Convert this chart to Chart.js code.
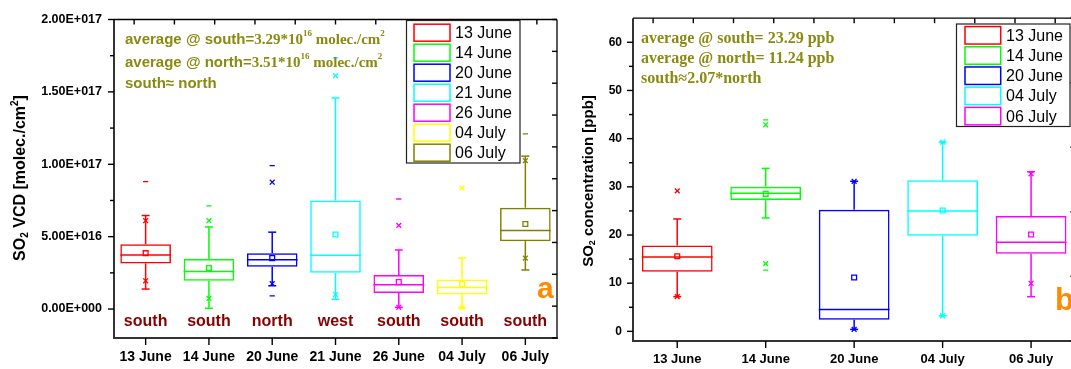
<!DOCTYPE html>
<html>
<head>
<meta charset="utf-8">
<script src="https://cdn.jsdelivr.net/npm/chart.js@4.4.1/dist/chart.umd.min.js"></script>
<style>
  html, body { margin: 0; padding: 0; background: #fff; overflow: hidden; width: 1071px; height: 369px; }
  canvas { position: absolute; top: 0; }
  #panelA { left: 0; }
  #panelB { left: 565px; }
</style>
</head>
<body>
<canvas id="panelA" width="565" height="369"></canvas>
<canvas id="panelB" width="515" height="369"></canvas>
<script>
// ---- panel a : SO2 VCD, values in units of 1E+016 molec./cm2 ----
const UNIT_A = 1e16
const daysA = ['13 June', '14 June', '20 June', '21 June', '26 June', '04 July', '06 July']
const placeA = ['south', 'south', 'north', 'west', 'south', 'south', 'south']
const colorsA = ['#ff0000', '#00ff00', '#0000ff', '#00ffff', '#ff00ff', '#ffff00', '#808000']
const whiskLoA = [1.38, 0.05, 1.61, 0.68, 0.12, 0.09, 2.70]
const q1A      = [3.15, 1.95, 2.93, 2.50, 1.11, 1.00, 4.69]
const medianA  = [3.74, 2.59, 3.40, 3.72, 1.68, 1.48, 5.42]
const q3A      = [4.47, 3.45, 3.86, 7.50, 2.36, 2.04, 7.00]
const whiskHiA = [6.46, 5.67, 5.31, 14.58, 4.08, 3.52, 10.56]
const meanA    = [3.86, 2.84, 3.52, 5.15, 1.86, 1.72, 5.87]
const crossLoA = [1.95, 0.73, 1.75, 1.00, 0.12, 0.09, 3.52]
const crossHiA = [6.10, 6.10, 8.76, 16.12, 5.78, 8.37, 10.25]
const dashLoA  = [null, null, 0.91, null, null, null, null]
const dashHiA  = [8.80, 7.12, 9.91, 17.35, 7.60, null, 12.10]

// ---- panel b : SO2 concentration [ppb] ----
const daysB = ['13 June', '14 June', '20 June', '04 July', '06 July']
const colorsB = ['#ff0000', '#00ff00', '#0000ff', '#00ffff', '#ff00ff']
const whiskLoB = [7.2, 23.54, 0.41, 3.23, 7.2]
const q1B      = [12.35, 27.24, 2.41, 19.84, 16.13]
const medianB  = [15.43, 28.68, 4.53, 24.98, 18.52]
const q3B      = [17.84, 30.04, 25.25, 31.36, 23.95]
const whiskHiB = [23.33, 33.83, 31.15, 39.3, 33.13]
const meanB    = [15.58, 28.54, 11.19, 25.1, 20.1]
const crossLoB = [7.2, 14.07, 0.41, 3.23, 9.96]
const crossHiB = [29.16, 42.88, 31.15, 39.3, 32.7]
const dashLoB  = [null, 12.7, 0.41, 3.23, null]
const dashHiB  = [null, 43.9, 31.15, 39.3, 33.13]

const SANS = '"Liberation Sans", Arial, sans-serif'
const SERIF = '"Liberation Serif", "Times New Roman", serif'
const OLIVE = '#8a8a10'

function sciLabel(v) {
    let [m, e] = Number(v).toExponential(2).split('e')
    let n = parseInt(e)
    return m + 'E' + (n < 0 ? '-' : '+') + String(Math.abs(n)).padStart(3, '0')
}

// draws pieces of text one after the other, returns the width
function drawRich(ctx, parts, x, y, measureOnly) {
    let cx = x
    parts.forEach(p => {
        ctx.font = p.font
        if (!measureOnly) ctx.fillText(p.text, cx, y + (p.dy || 0))
        cx += ctx.measureText(p.text).width
    })
    return cx - x
}

function line(ctx, x1, y1, x2, y2) {
    ctx.beginPath()
    ctx.moveTo(x1, y1)
    ctx.lineTo(x2, y2)
    ctx.stroke()
}

function pointSet(values, style, radius, colors) {
    return {
        type: 'line', data: values, showLine: false,
        pointStyle: style, pointRadius: radius, pointHoverRadius: radius,
        pointBorderColor: colors, pointBackgroundColor: 'rgba(0,0,0,0)', pointBorderWidth: 1.3
    }
}

function panelPlugin(p) {
    return {
        id: 'panelDeco',
        afterDatasetsDraw(chart) {
            let ctx = chart.ctx
            let y = chart.scales.y
            let bars = chart.getDatasetMeta(0).data
            ctx.save()
            ctx.lineWidth = 1.5
            p.days.forEach((d, i) => {
                let bar = bars[i]
                let cx = bar.x, half = bar.width / 2
                ctx.strokeStyle = p.colors[i]
                line(ctx, cx - half, y.getPixelForValue(p.median[i]), cx + half, y.getPixelForValue(p.median[i]))
                let yq3 = y.getPixelForValue(p.q3[i]), yq1 = y.getPixelForValue(p.q1[i])
                let yHi = y.getPixelForValue(p.whiskHi[i]), yLo = y.getPixelForValue(p.whiskLo[i])
                line(ctx, cx, yq3, cx, yHi)
                line(ctx, cx, yq1, cx, yLo)
                line(ctx, cx - 4, yHi, cx + 4, yHi)
                line(ctx, cx - 4, yLo, cx + 4, yLo)
            })
            ctx.restore()
        },
        afterDraw(chart) {
            let ctx = chart.ctx
            let a = chart.chartArea
            let x = chart.scales.x, y = chart.scales.y
            ctx.save()
            // frame
            ctx.strokeStyle = '#000'
            ctx.lineWidth = 1.3
            line(ctx, a.left, a.top, a.right, a.top)
            line(ctx, a.right, a.top, a.right, a.bottom)
            ctx.lineWidth = 1.6
            line(ctx, a.left, a.top, a.left, a.bottom + 1)
            ctx.strokeStyle = '#333'
            ctx.lineWidth = 2
            line(ctx, a.left - 1, a.bottom, a.right + 1, a.bottom)
            // ticks
            ctx.strokeStyle = '#000'
            ctx.lineWidth = 1.4
            y.ticks.forEach(t => {
                let py = y.getPixelForValue(t.value)
                line(ctx, a.left - 6, py, a.left, py)
            })
            for (let v = Math.ceil(p.yMin / p.minor) * p.minor; v < p.yMax; v += p.minor) {
                if (Math.abs(Math.round(v / p.step) * p.step - v) < p.minor / 10) continue
                let py = y.getPixelForValue(v)
                line(ctx, a.left - 4, py, a.left, py)
            }
            p.days.forEach((d, i) => {
                let px = x.getPixelForValue(i)
                line(ctx, px, a.bottom, px, a.bottom + 7)
            })
            chart.scales.xTop.ticks.forEach(t => {
                let px = chart.scales.xTop.getPixelForValue(t.value)
                line(ctx, px, a.top, px, a.top + 5)
            })
            chart.scales.yRight.ticks.forEach(t => {
                let py = chart.scales.yRight.getPixelForValue(t.value)
                line(ctx, a.right - 5, py, a.right, py)
            })

            // axis title
            ctx.fillStyle = '#000'
            ctx.textBaseline = 'middle'
            ctx.textAlign = 'left'
            let w = drawRich(ctx, p.title, 0, 0, true)
            ctx.save()
            ctx.translate(p.titleX, p.titleY)
            ctx.rotate(-Math.PI / 2)
            drawRich(ctx, p.title, -w / 2, 0)
            ctx.restore()

            // notes top left
            ctx.fillStyle = OLIVE
            p.notes.forEach((parts, i) => drawRich(ctx, parts, p.noteX, p.noteY[i]))

            // location names under boxes
            if (p.places) {
                ctx.fillStyle = '#880000'
                ctx.textAlign = 'center'
                ctx.font = `bold 16px ${SANS}`
                p.places.forEach((s, i) => ctx.fillText(s, x.getPixelForValue(i), y.getPixelForValue(p.placeY)))
                ctx.textAlign = 'left'
            }

            // legend
            let L = p.legend
            ctx.fillStyle = '#fff'
            ctx.fillRect(L.x, L.y, L.w, L.h)
            ctx.strokeStyle = '#222'
            ctx.lineWidth = 1.2
            ctx.strokeRect(L.x, L.y, L.w, L.h)
            ctx.font = `16px ${SANS}`
            p.days.forEach((d, i) => {
                let ry = L.row0 + L.dy * i
                ctx.strokeStyle = p.colors[i]
                ctx.lineWidth = 1.5
                ctx.strokeRect(L.swX, ry - L.swH / 2, L.swW, L.swH)
                ctx.fillStyle = '#000'
                ctx.fillText(d, L.textX, ry + 1)
            })

            // panel letter
            ctx.fillStyle = '#ff8a00'
            ctx.textBaseline = 'alphabetic'
            ctx.font = `bold ${p.letterSize}px ${SANS}`
            ctx.fillText(p.letter, p.letterX, p.letterY)
            ctx.restore()
        }
    }
}

function boxPanel(canvasId, p) {
    return new Chart(document.getElementById(canvasId), {
        type: 'bar',
        data: {
            labels: p.days,
            datasets: [
                {
                    type: 'bar', data: p.days.map((d, i) => [p.q1[i], p.q3[i]]),
                    borderColor: p.colors, backgroundColor: 'rgba(0,0,0,0)', borderWidth: 1.5,
                    borderSkipped: false, barPercentage: 0.8, categoryPercentage: 1
                },
                pointSet(p.mean, 'rect', 3.4, p.colors),
                pointSet(p.crossHi, 'crossRot', 3.4, p.colors),
                pointSet(p.crossLo, 'crossRot', 3.4, p.colors),
                pointSet(p.dashHi, 'line', 2.6, p.colors),
                pointSet(p.dashLo, 'line', 2.6, p.colors)
            ]
        },
        options: {
            responsive: false,
            animation: false,
            events: [],
            layout: { padding: { left: 0, top: p.padTop, right: p.padRight, bottom: 0 } },
            plugins: { legend: { display: false }, tooltip: { enabled: false } },
            scales: {
                x: {
                    grid: { display: false, drawTicks: false }, border: { display: false },
                    ticks: { color: '#000', maxRotation: 0, autoSkip: false, padding: p.xPad, font: { family: SANS, size: p.xFont, weight: 'bold' } },
                    afterFit: s => { s.height = p.xH }
                },
                y: {
                    min: p.yMin, max: p.yMax,
                    grid: { display: false, drawTicks: false }, border: { display: false },
                    ticks: { stepSize: p.step, includeBounds: false, callback: p.fmt, color: '#000', padding: p.yPad, font: { family: SANS, size: p.yFont, weight: 'bold' } },
                    afterFit: s => { s.width = p.yW }
                },
                xTop: {
                    type: 'linear', position: 'top', min: 0, max: 10,
                    grid: { display: false, drawTicks: false }, border: { display: false },
                    ticks: { stepSize: 1, display: false },
                    afterFit: s => { s.height = 0 }
                },
                yRight: {
                    type: 'linear', position: 'right', min: 0, max: p.rightDiv,
                    grid: { display: false, drawTicks: false }, border: { display: false },
                    ticks: { stepSize: 1, display: false },
                    afterFit: s => { s.width = 0 }
                }
            }
        },
        plugins: [panelPlugin(p)]
    })
}

const bold15 = `bold 15px ${SANS}`
const bold16 = `bold 16px ${SANS}`
const serif15 = `bold 15px ${SERIF}`
const serifSup = `bold 9px ${SERIF}`
const serif16 = `bold 16px ${SERIF}`

boxPanel('panelA', {
    days: daysA, colors: colorsA, places: placeA, placeY: -0.9,
    q1: q1A, q3: q3A, median: medianA, mean: meanA, whiskLo: whiskLoA, whiskHi: whiskHiA,
    crossLo: crossLoA, crossHi: crossHiA, dashLo: dashLoA, dashHi: dashHiA,
    yMin: -2, yMax: 20, step: 5, minor: 2.5, fmt: v => sciLabel(v * UNIT_A),
    padTop: 15, padRight: 8, yW: 114, xH: 31, xPad: 11, yPad: 12, rightDiv: 10, xFont: 14, yFont: 12.5,
    title: [
        { text: 'SO', font: bold16 }, { text: '2', font: `bold 10px ${SANS}`, dy: 4 },
        { text: ' VCD [molec./cm', font: bold16 }, { text: '2', font: `bold 10px ${SANS}`, dy: -6 },
        { text: ']', font: bold16 }
    ],
    titleX: 21, titleY: 178,
    notes: [
        [{ text: 'average @ south=', font: bold15 }, { text: '3.29*10', font: serif15 }, { text: '16', font: serifSup, dy: -6 },
         { text: ' molec./cm', font: serif15 }, { text: '2', font: serifSup, dy: -6 }],
        [{ text: 'average @ north=', font: bold15 }, { text: '3.51*10', font: serif15 }, { text: '16', font: serifSup, dy: -6 },
         { text: ' molec./cm', font: serif15 }, { text: '2', font: serifSup, dy: -6 }],
        [{ text: 'south\u2248 north', font: bold15 }]
    ],
    noteX: 125, noteY: [40, 63, 84],
    legend: { x: 406.5, y: 20.5, w: 113.5, h: 142.5, row0: 32.7, dy: 20, swX: 414, swW: 36, swH: 17, textX: 455 },
    letter: 'a', letterSize: 30, letterX: 537, letterY: 298
})

boxPanel('panelB', {
    days: daysB, colors: colorsB, places: null,
    q1: q1B, q3: q3B, median: medianB, mean: meanB, whiskLo: whiskLoB, whiskHi: whiskHiB,
    crossLo: crossLoB, crossHi: crossHiB, dashLo: dashLoB, dashHi: dashHiB,
    yMin: -2, yMax: 65, step: 10, minor: 5, fmt: v => String(v),
    padTop: 16, padRight: 3, yW: 68, xH: 28, xPad: 11, yPad: 11, rightDiv: 5, xFont: 13, yFont: 12,
    title: [
        { text: 'SO', font: bold15 }, { text: '2', font: `bold 9px ${SANS}`, dy: 4 },
        { text: ' concentration [ppb]', font: bold15 }
    ],
    titleX: 24, titleY: 181,
    notes: [
        [{ text: 'average @ south= 23.29 ppb', font: serif16 }],
        [{ text: 'average @ north= 11.24 ppb', font: serif16 }],
        [{ text: 'south\u22482.07*north', font: serif16 }]
    ],
    noteX: 76, noteY: [38.5, 58.5, 79],
    legend: { x: 391.5, y: 24, w: 113.5, h: 102.5, row0: 35.3, dy: 20.2, swX: 400, swW: 35.7, swH: 17.5, textX: 441 },
    letter: 'b', letterSize: 31, letterX: 490, letterY: 310
})
</script>
</body>
</html>
